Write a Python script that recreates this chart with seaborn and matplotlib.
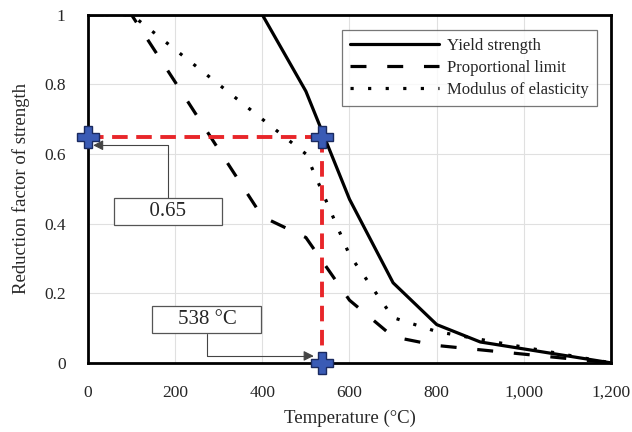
import matplotlib
matplotlib.use("Agg")
import matplotlib.pyplot as plt
import numpy as np
import pandas as pd
import seaborn as sns

# Reduction factors vs temperature
temperature = [0, 100, 200, 300, 400, 500, 600, 700, 800, 900, 1000, 1100, 1200]
yield_strength = [1.0, 1.0, 1.0, 1.0, 1.0, 0.78, 0.47, 0.23, 0.11, 0.06, 0.04, 0.02, 0.0]
proportional_limit = [1.0, 1.0, 0.807, 0.613, 0.42, 0.36, 0.18, 0.075, 0.05, 0.0375, 0.025, 0.0125, 0.0]
modulus_elasticity = [1.0, 1.0, 0.9, 0.8, 0.7, 0.6, 0.31, 0.13, 0.09, 0.0675, 0.045, 0.0225, 0.0]

crit_temp = 538
crit_factor = 0.65
x_ticks = [0, 200, 400, 600, 800, 1000, 1200]
y_ticks = [0, 0.2, 0.4, 0.6, 0.8, 1.0]
y_tick_labels = ["0", "0.2", "0.4", "0.6", "0.8", "1"]

sns.set_style("white")
plt.rcParams["font.family"] = ["Liberation Serif", "DejaVu Serif"]

fig = plt.figure(figsize=(6.32, 4.32), dpi=100)
ax = fig.add_axes([0.139, 0.160, 0.828, 0.806])

df = pd.DataFrame({"T": temperature, "ky": yield_strength,
                   "kp": proportional_limit, "kE": modulus_elasticity})

sns.lineplot(data=df, x="T", y="ky", ax=ax, color="black", lw=2.3,
             label="Yield strength")
sns.lineplot(data=df, x="T", y="kp", ax=ax, color="black", lw=2.3,
             label="Proportional limit").lines[-1].set_dashes([5, 6.5])
sns.lineplot(data=df, x="T", y="kE", ax=ax, color="black", lw=2.3,
             label="Modulus of elasticity").lines[-1].set_dashes([1, 4.5])

# red guide lines to critical point
ax.plot([0, crit_temp], [crit_factor, crit_factor], color="#e8262a", lw=2.8,
        dashes=[4, 2.2], zorder=4)
ax.plot([crit_temp, crit_temp], [crit_factor, 0], color="#e8262a", lw=2.8,
        dashes=[4, 2.2], zorder=4)
ax.plot([0, crit_temp, crit_temp], [crit_factor, crit_factor, 0], ls="none",
        marker="P", ms=16, mfc="#3a5bb5", mec="#1a2a60", mew=1, zorder=6,
        clip_on=False)

box = dict(boxstyle="square,pad=0.2", fc="white", ec="#555555", lw=0.9)
ax.annotate("      0.65      ", xy=(12, 0.625), xytext=(183, 0.434),
            fontsize=15, ha="center", va="center", bbox=box,
            arrowprops=dict(arrowstyle="-|>", color="#444444", lw=0.8,
                            connectionstyle="angle,angleA=90,angleB=0,rad=0",
                            shrinkA=0, shrinkB=0))
ax.annotate("    538 °C    ", xy=(518, 0.02), xytext=(273, 0.124),
            fontsize=15, ha="center", va="center", bbox=box,
            arrowprops=dict(arrowstyle="-|>", color="#444444", lw=0.8,
                            connectionstyle="angle,angleA=-90,angleB=0,rad=0",
                            shrinkA=0, shrinkB=0))

ax.set_xlim(0, 1200)
ax.set_ylim(0, 1)
ax.set_xticks(x_ticks)
ax.set_xticklabels([f"{t:,}" for t in x_ticks])
ax.set_yticks(y_ticks)
ax.set_yticklabels(y_tick_labels)
ax.grid(True, color="#e0e0e0", lw=0.8)
ax.tick_params(axis="both", length=10, color="#e0e0e0", width=0.8,
               labelsize=12.5)
ax.tick_params(axis="x", pad=6)
ax.tick_params(axis="y", pad=6)
for s in ax.spines.values():
    s.set_visible(True)
    s.set_color("black")
    s.set_linewidth(2)
ax.set_xlabel("Temperature (°C)", fontsize=13.5, labelpad=6)
ax.set_ylabel("Reduction factor of strength", fontsize=13.5, labelpad=10)

leg = ax.legend(loc="upper right", bbox_to_anchor=(0.973, 0.957), fontsize=12,
                handlelength=5.3, frameon=True, fancybox=False,
                borderaxespad=0, borderpad=0.5, labelspacing=0.35,
                handletextpad=0.5)
leg.get_frame().set_edgecolor("#555555")
leg.get_frame().set_linewidth(0.9)

fig.savefig("out.png", dpi=100)
